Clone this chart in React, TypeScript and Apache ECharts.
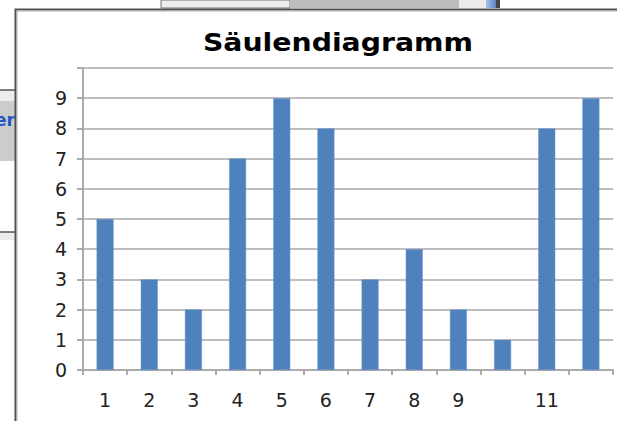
import React, { useEffect, useRef } from "react";
import * as echarts from "echarts";

const categories = ["1", "2", "3", "4", "5", "6", "7", "8", "9", "10", "11", "12"];
const tickLabels = ["1", "2", "3", "4", "5", "6", "7", "8", "9", "", "11", ""];
const values = [5, 3, 2, 7, 9, 8, 3, 4, 2, 1, 8, 9];
const yTickLabels = ["0", "1", "2", "3", "4", "5", "6", "7", "8", "9", ""];
const titleText = "Säulendiagramm";

export default function App() {
  const ref = useRef<HTMLDivElement>(null);
  useEffect(() => {
    if (!ref.current) return;
    const chart = echarts.init(ref.current, undefined, { renderer: "svg" });
    const font = "DejaVu Sans";
    chart.setOption({
      animation: false,
      backgroundColor: "#ffffff",
      textStyle: { fontFamily: font },
      grid: { left: 83, right: 4, top: 68, bottom: 51, containLabel: false },
      xAxis: {
        type: "category",
        data: categories,
        boundaryGap: true,
        axisLine: { show: true, lineStyle: { color: "#ababab", width: 2 } },
        axisTick: { show: true, length: 5, alignWithLabel: false, interval: 0, lineStyle: { color: "#ababab", width: 2 } },
        axisLabel: {
          interval: 0,
          margin: 20,
          color: "#222",
          fontSize: 19,
          fontFamily: font,
          formatter: (_v: string, i: number) => tickLabels[i],
        },
        splitLine: { show: false },
      },
      yAxis: {
        type: "value",
        min: 0,
        max: 10,
        interval: 1,
        axisLine: { show: true, lineStyle: { color: "#ababab", width: 2 } },
        axisTick: { show: true, length: 6, lineStyle: { color: "#ababab", width: 2 } },
        axisLabel: {
          margin: 16,
          color: "#222",
          fontSize: 19,
          fontFamily: font,
          formatter: (v: number) => yTickLabels[Math.round(v)] ?? "",
        },
        splitLine: { show: true, lineStyle: { color: "#a8a8a8", width: 1.5 } },
      },
      series: [
        {
          type: "bar",
          data: values,
          barWidth: 17,
          itemStyle: { color: "#4f81bd", borderColor: "#6b95c9", borderWidth: 0.5 },
        },
      ],
      graphic: [
        { type: "rect", shape: { x: 161, y: 0, width: 129, height: 8 }, style: { fill: "#ececec", stroke: "#777", lineWidth: 1 } },
        { type: "rect", shape: { x: 290, y: 0, width: 169, height: 8 }, style: { fill: "#bdbdbd" } },
        { type: "rect", shape: { x: 459, y: 0, width: 27, height: 8 }, style: { fill: "#ececec" } },
        {
          type: "rect",
          shape: { x: 486, y: 0, width: 10, height: 8 },
          style: {
            fill: new echarts.graphic.LinearGradient(0, 0, 1, 0, [
              { offset: 0, color: "#a9c3e8" },
              { offset: 1, color: "#5b84c2" },
            ]),
          },
        },
        { type: "rect", shape: { x: 496, y: 0, width: 4, height: 8 }, style: { fill: "#444" } },
        { type: "rect", shape: { x: 0, y: 90, width: 15, height: 11 }, style: { fill: "#ececec" } },
        { type: "line", shape: { x1: 0, y1: 90, x2: 15, y2: 90 }, style: { stroke: "#555", lineWidth: 1.5 } },
        { type: "rect", shape: { x: 0, y: 101, width: 15, height: 60 }, style: { fill: "#cccccc" } },
        {
          type: "text",
          x: 15,
          y: 120,
          style: { text: "er", fill: "#2456c8", font: "bold 17px 'DejaVu Sans'", align: "right", verticalAlign: "middle" },
        },
        { type: "rect", shape: { x: 0, y: 232, width: 15, height: 8 }, style: { fill: "#ececec" } },
        { type: "line", shape: { x1: 0, y1: 232, x2: 15, y2: 232 }, style: { stroke: "#555", lineWidth: 1.5 } },
        { type: "rect", shape: { x: 15, y: 9, width: 602, height: 412 }, style: { fill: "#ffffff" }, z: -1 },
        { type: "polyline", shape: { points: [[15.5, 421], [15.5, 9.5], [617, 9.5]] }, style: { stroke: "#505050", lineWidth: 2, fill: null } },
        { type: "polyline", shape: { points: [[17, 421], [17, 11], [617, 11]] }, style: { stroke: "#b0b0b0", lineWidth: 1, fill: null } },
        {
          type: "text",
          x: 338,
          y: 43,
          scaleX: 1.18,
          style: { text: titleText, fill: "#000", font: "bold 24px 'DejaVu Sans'", align: "center", verticalAlign: "middle" },
        },
      ],
    });
    return () => chart.dispose();
  }, []);
  return <div ref={ref} style={{ position: "absolute", left: 0, top: 0, width: 617, height: 421 }} />;
}
